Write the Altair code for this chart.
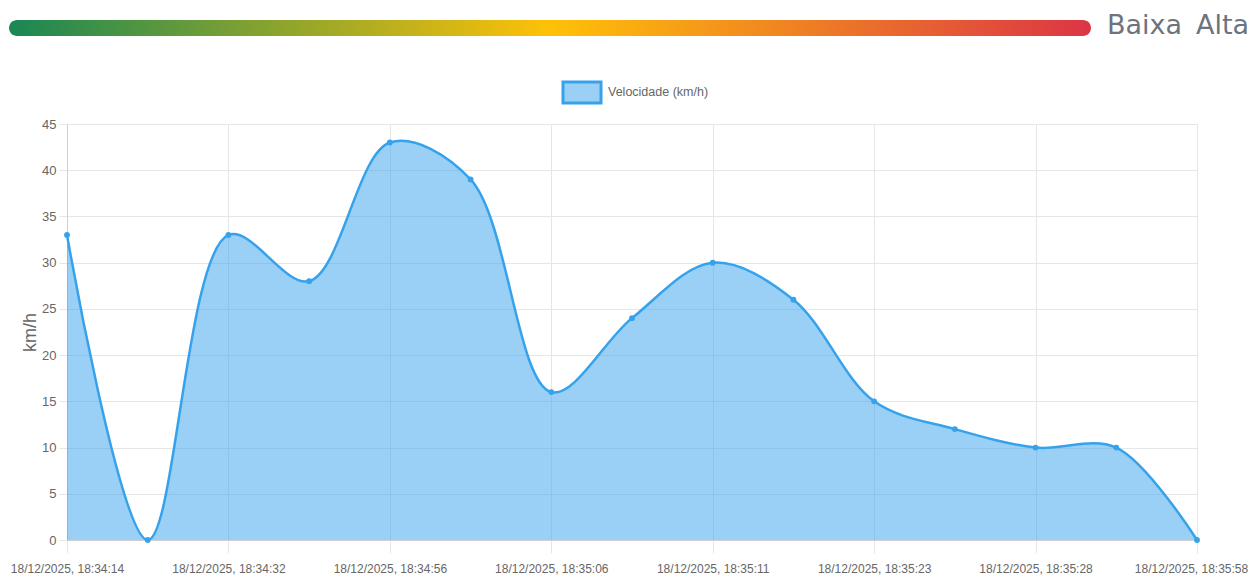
import altair as alt
import pandas as pd

# ---- data ----
speeds = [33, 0, 33, 28, 43, 39, 16, 24, 30, 26, 15, 12, 10, 10, 0]
point_index = list(range(15))
tick_labels = [
    "18/12/2025, 18:34:14",
    "18/12/2025, 18:34:32",
    "18/12/2025, 18:34:56",
    "18/12/2025, 18:35:06",
    "18/12/2025, 18:35:11",
    "18/12/2025, 18:35:23",
    "18/12/2025, 18:35:28",
    "18/12/2025, 18:35:58",
]
y_ticks = [0, 5, 10, 15, 20, 25, 30, 35, 40, 45]
legend_label = ["Velocidade (km/h)"]
scale_words = ["Baixa", "Alta"]
y_title = "km/h"

df = pd.DataFrame({"i": point_index, "v": speeds})

FONT = "Liberation Sans, Arial, sans-serif"
BLUE = "#36a2eb"
GRID = "#e6e6e6"
W, H = 1130, 416

label_expr = "[" + ",".join("'%s'" % s for s in tick_labels) + "][round(datum.value/2)]"

x = alt.X(
    "i:Q",
    scale=alt.Scale(domain=[0, 14], nice=False, zero=False),
    axis=alt.Axis(
        values=list(range(0, 15, 2)), labelExpr=label_expr, title=None,
        grid=True, gridColor=GRID, tickColor=GRID, tickSize=13,
        domainColor="#d0d0d0", labelFont=FONT, labelFontSize=12,
        labelColor="#666666", labelPadding=10, labelFlush=False, labelOverlap=False,
        labelOffset={"condition": {"test": "datum.value == 14", "value": -6}, "value": 0},
    ),
)
y = alt.Y(
    "v:Q",
    scale=alt.Scale(domain=[0, 45], nice=False),
    axis=alt.Axis(
        values=y_ticks, title=y_title, grid=True, gridColor=GRID,
        tickColor=GRID, tickSize=8, domainColor="#d0d0d0",
        labelFont=FONT, labelFontSize=13, labelColor="#666666", labelPadding=3,
        titleFont=FONT, titleFontSize=18, titleFontWeight="normal",
        titleColor="#666666", titleX=-37, titleY=H / 2, titleAngle=270,
        titleAlign="center", titleBaseline="middle",
    ),
)

area = alt.Chart(df).mark_area(
    interpolate="catmull-rom", color=BLUE, fillOpacity=0.5,
    line=alt.OverlayMarkDef(color=BLUE, strokeWidth=2.5),
).encode(x=x, y=y)

points = alt.Chart(df).mark_circle(size=34, color=BLUE, opacity=1).encode(x="i:Q", y="v:Q")

gradient = alt.Gradient(
    gradient="linear",
    stops=[
        alt.GradientStop(color="#198754", offset=0),
        alt.GradientStop(color="#ffc107", offset=0.5),
        alt.GradientStop(color="#dc3545", offset=1),
    ],
    x1=0, x2=1, y1=0, y2=0,
)
bar = alt.Chart(pd.DataFrame({"k": [0]})).mark_bar(cornerRadius=8, color=gradient).encode(
    x=alt.value(-58), x2=alt.value(1024), y=alt.value(-104), y2=alt.value(-88)
)

words = pd.DataFrame({"w": scale_words, "px": [1040, 1129]})
scale_text = alt.Chart(words).mark_text(
    font="DejaVu Sans", fontSize=27, color="#6c757d", align="left", baseline="middle"
).encode(x=alt.X("px:Q", scale=None), y=alt.value(-98), text="w:N")

leg_rect = alt.Chart(pd.DataFrame({"k": [0]})).mark_rect(
    fill=BLUE, fillOpacity=0.5, stroke=BLUE, strokeWidth=3
).encode(x=alt.value(496), x2=alt.value(534), y=alt.value(-42), y2=alt.value(-21))

leg_text = alt.Chart(pd.DataFrame({"t": legend_label})).mark_text(
    font=FONT, fontSize=12.5, color="#666666", align="left", baseline="middle"
).encode(x=alt.value(541), y=alt.value(-32), text="t:N")

chart = alt.layer(area, points, bar, scale_text, leg_rect, leg_text).properties(
    width=W, height=H,
    autosize=alt.AutoSizeParams(type="none"),
    padding={"left": 59, "top": 116, "right": 52, "bottom": 46},
).configure_view(stroke=None)

chart.save("out.html", embed_options={"renderer": "svg", "actions": False})
